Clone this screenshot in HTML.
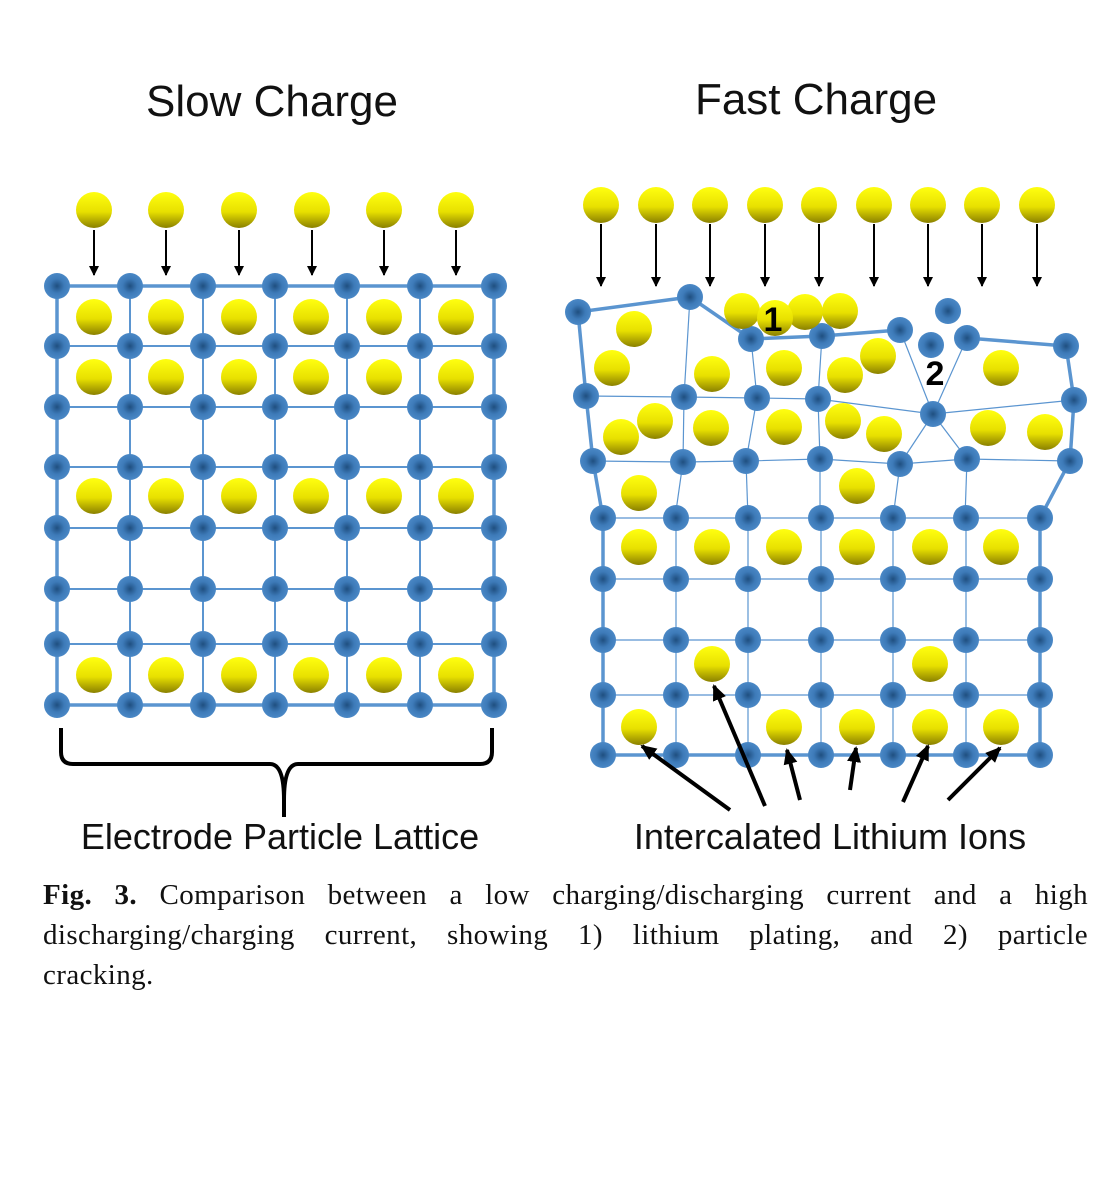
<!DOCTYPE html>
<html><head><meta charset="utf-8">
<style>
html,body{margin:0;padding:0;background:#fff;}
body{width:1119px;height:1200px;position:relative;overflow:hidden;}
.cap{position:absolute;left:43px;top:875px;width:1045px;font-family:"Liberation Serif",serif;font-size:29px;line-height:40px;color:#111;letter-spacing:0.4px;}
.cap div{text-align:justify;text-align-last:justify;white-space:nowrap;}
.cap div.l{text-align-last:left;}
</style></head><body>
<svg id="s" width="1119" height="1200" style="position:absolute;left:0;top:0" font-family="Liberation Sans, DejaVu Sans, sans-serif">
<defs>
<radialGradient id="nb" cx="50%" cy="50%" r="50%"><stop offset="0" stop-color="#1f4f80"/><stop offset="0.55" stop-color="#3d7ab8"/><stop offset="1" stop-color="#4a88c6"/></radialGradient>
<linearGradient id="yl" x1="0" y1="0" x2="0" y2="1"><stop offset="0" stop-color="#ffff10"/><stop offset="0.55" stop-color="#e8e000"/><stop offset="1" stop-color="#8a8000"/></linearGradient>
<marker id="ah" markerWidth="10" markerHeight="10" refX="9" refY="5" orient="auto" markerUnits="userSpaceOnUse"><path d="M0,0 L10,5 L0,10 z" fill="#000"/></marker>
<marker id="ah2" markerWidth="16" markerHeight="14" refX="14" refY="7" orient="auto" markerUnits="userSpaceOnUse"><path d="M0,0 L16,7 L0,14 z" fill="#000"/></marker>
</defs>
<text x="272" y="116" font-size="44" text-anchor="middle" fill="#111">Slow Charge</text>
<text x="816" y="114" font-size="44" text-anchor="middle" fill="#111">Fast Charge</text>
<g id="lines" stroke="#5b95d0" fill="none"></g>
<g id="nodes"></g>
<g id="ions"></g>
<g id="arr" stroke="#000" stroke-width="2"></g>
<path d="M61,728 L61,752 Q61,764 73,764 L270,764 Q284,764 284,800 L284,817 M284,800 Q284,764 298,764 L480,764 Q492,764 492,752 L492,728" stroke="#000" stroke-width="4" fill="none"/>
<text x="280" y="849" font-size="36" text-anchor="middle" fill="#111">Electrode Particle Lattice</text>
<text x="830" y="849" font-size="36" text-anchor="middle" fill="#111">Intercalated Lithium Ions</text>
<text x="773" y="331" font-size="34" font-weight="bold" text-anchor="middle" fill="#000">1</text>
<text x="935" y="385" font-size="34" font-weight="bold" text-anchor="middle" fill="#000">2</text>
<g stroke="#000" stroke-width="4" marker-end="url(#ah2)">
<line x1="730" y1="810" x2="642" y2="746"/>
<line x1="765" y1="806" x2="714" y2="686"/>
<line x1="800" y1="800" x2="787" y2="750"/>
<line x1="850" y1="790" x2="856" y2="748"/>
<line x1="903" y1="802" x2="928" y2="746"/>
<line x1="948" y1="800" x2="1000" y2="748"/>
</g>
</svg>
<div class="cap"><div><b>Fig. 3.</b> Comparison between a low charging/discharging current and a high</div><div>discharging/charging current, showing 1) lithium plating, and 2) particle</div><div class="l">cracking.</div></div>
<script>
var NS="http://www.w3.org/2000/svg";
function el(g,t,a){var e=document.createElementNS(NS,t);for(var k in a)e.setAttribute(k,a[k]);document.getElementById(g).appendChild(e);}
function node(x,y){el("nodes","circle",{cx:x,cy:y,r:13,fill:"url(#nb)"});}
function ion(x,y){el("ions","circle",{cx:x,cy:y,r:18,fill:"url(#yl)"});}
function ln(a,b,w){el("lines","line",{x1:a[0],y1:a[1],x2:b[0],y2:b[1],"stroke-width":w});}
function pl(pts,w){el("lines","polyline",{points:pts.map(function(p){return p.join(",")}).join(" "),"stroke-width":w});}
var sx=[57,130,203,275,347,420,494], sy=[286,346,407,467,528,589,644,705];
for(var i=0;i<sy.length;i++){ln([sx[0],sy[i]],[sx[6],sy[i]],(i==0||i==7)?3.5:2);}
for(var j=0;j<sx.length;j++){ln([sx[j],sy[0]],[sx[j],sy[7]],(j==0||j==6)?3.5:2);}
sy.forEach(function(y){sx.forEach(function(x){node(x,y);});});
[317,377,496,675].forEach(function(y){[94,166,239,311,384,456].forEach(function(x){ion(x,y);});});
[94,166,239,312,384,456].forEach(function(x){ion(x,210);el("arr","line",{x1:x,y1:230,x2:x,y2:275,"marker-end":"url(#ah)"});});
[601,656,710,765,819,874,928,982,1037].forEach(function(x){ion(x,205);el("arr","line",{x1:x,y1:224,x2:x,y2:286,"marker-end":"url(#ah)"});});
var T=[[578,312],[690,297],[751,339],[822,336],[900,330]], T2=[[967,338],[1066,346]];
var R2=[[586,396],[684,397],[757,398],[818,399],[933,414],[1074,400]];
var R3=[[593,461],[683,462],[746,461],[820,459],[900,464],[967,459],[1070,461]];
var gx=[603,676,748,821,893,966,1040], gy=[518,579,640,695,755];
var R4=[[602,518],[675,518],[748,518],[820,518],[893,518],[965,518],[1040,518]];
pl(R2,1.2); pl(R3,1.2);
for(var k=1;k<4;k++){ln(T[k],R2[k],1.2);}
for(var k=1;k<4;k++){ln(R2[k],R3[k],1.2);}
ln(R2[4],T[4],1.2);ln(R2[4],T2[0],1.2);ln(R2[4],R3[4],1.2);ln(R2[4],R3[5],1.2);
for(var k=1;k<6;k++){ln(R3[k],R4[k],1.2);}
for(var r=1;r<4;r++){ln([gx[0],gy[r]],[gx[6],gy[r]],1.2);}
ln([gx[0],gy[0]],[gx[6],gy[0]],1.2);
for(var c=1;c<6;c++){ln([gx[c],gy[0]],[gx[c],gy[4]],1.2);}
pl([[1040,518],[1040,755],[603,755],[603,518],[593,461],[586,396],[578,312],[690,297],[751,339],[822,336],[900,330]],3.5);
pl([[967,338],[1066,346],[1074,400],[1070,461],[1040,518]],3.5);
T.concat(T2,R2,R3).forEach(function(p){node(p[0],p[1]);});
node(948,311);node(931,345);
gy.forEach(function(y){gx.forEach(function(x){node(x,y);});});
[[634,329],[742,311],[805,312],[840,311],[775,318],[612,368],[712,374],[784,368],[845,375],[878,356],[1001,368],[655,421],[621,437],[711,428],[784,427],[843,421],[884,434],[988,428],[1045,432],[639,493],[857,486],[639,547],[712,547],[784,547],[857,547],[930,547],[1001,547],[712,664],[930,664],[639,727],[784,727],[857,727],[930,727],[1001,727]].forEach(function(p){ion(p[0],p[1]);});
</script>
</body></html>
